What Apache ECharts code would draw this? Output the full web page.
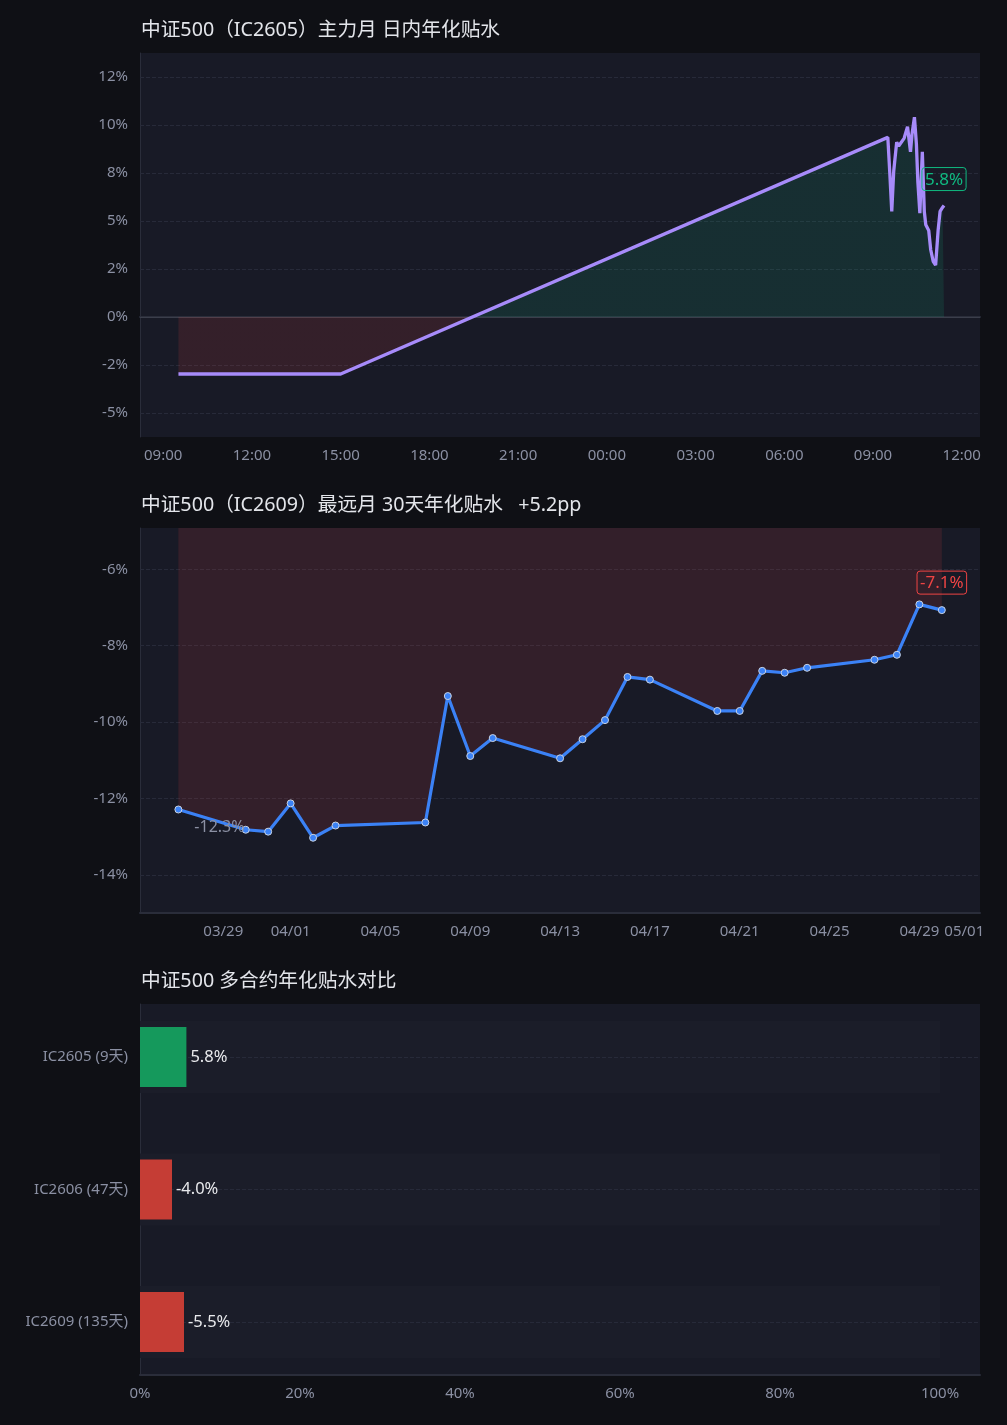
<!DOCTYPE html>
<html><head><meta charset="utf-8">
<script src="https://cdn.jsdelivr.net/npm/echarts@6/dist/echarts.min.js"></script>
<style>html,body{margin:0;padding:0;background:#0f1015;}#c{width:1007px;height:1425px;}#err{position:absolute;left:10px;top:10px;color:#ff0;font:12px monospace;white-space:pre;z-index:9}</style>
</head><body><div id="c"></div><div id="err"></div>
<script>
// ---------- data ----------
const titleTop = '中证500（IC2605）主力月 日内年化贴水';
const titleMid = '中证500（IC2609）最远月 30天年化贴水   +5.2pp';
const titleBottom = '中证500 多合约年化贴水对比';

const intradayTimes = [
  '2026-04-29 09:31','2026-04-29 11:30','2026-04-29 13:00','2026-04-29 15:00',
  '2026-04-30 09:30','2026-04-30 09:34','2026-04-30 09:38','2026-04-30 09:42','2026-04-30 09:48',
  '2026-04-30 09:52','2026-04-30 09:56','2026-04-30 10:03','2026-04-30 10:10','2026-04-30 10:16',
  '2026-04-30 10:19','2026-04-30 10:24','2026-04-30 10:28','2026-04-30 10:31','2026-04-30 10:35',
  '2026-04-30 10:40','2026-04-30 10:44','2026-04-30 10:47','2026-04-30 10:53','2026-04-30 10:57',
  '2026-04-30 11:02','2026-04-30 11:07','2026-04-30 11:12','2026-04-30 11:16','2026-04-30 11:21',
  '2026-04-30 11:24'
];
const intradayValues = [
  -2.97, -2.97, -2.97, -2.97,
  9.35, 7.5, 5.5, 7.6, 9.1,
  8.9, 8.8, 9.3, 9.9, 8.6,
  9.5, 10.4, 9.0, 7.0, 5.4,
  8.6, 5.5, 4.8, 4.5, 3.5,
  2.9, 2.7, 4.5, 5.5, 5.7,
  5.8
];
const topYTicks = [-5, -2.5, 0, 2.5, 5, 7.5, 10, 12.5];
const topXTicks = ['2026-04-29 09:00','2026-04-29 12:00','2026-04-29 15:00','2026-04-29 18:00','2026-04-29 21:00',
  '2026-04-30 00:00','2026-04-30 03:00','2026-04-30 06:00','2026-04-30 09:00','2026-04-30 12:00'];
const topXRange = ['2026-04-29 08:13', '2026-04-30 12:37'];

const farDates = ['2026-03-27','2026-03-30','2026-03-31','2026-04-01','2026-04-02','2026-04-03','2026-04-07',
  '2026-04-08','2026-04-09','2026-04-10','2026-04-13','2026-04-14','2026-04-15','2026-04-16','2026-04-17',
  '2026-04-20','2026-04-21','2026-04-22','2026-04-23','2026-04-24','2026-04-27','2026-04-28','2026-04-29','2026-04-30'];
const farValues = [-12.29,-12.82,-12.87,-12.13,-13.03,-12.71,-12.63,
  -9.32,-10.89,-10.42,-10.95,-10.45,-9.95,-8.82,-8.89,
  -9.71,-9.71,-8.66,-8.71,-8.58,-8.37,-8.24,-6.92,-7.07];
const midYTicks = [-14, -12, -10, -8, -6];
const midXTicks = ['2026-03-29','2026-04-01','2026-04-05','2026-04-09','2026-04-13','2026-04-17','2026-04-21','2026-04-25','2026-04-29','2026-05-01'];

const contracts = ['IC2605 (9天)', 'IC2606 (47天)', 'IC2609 (135天)'];
const contractBasis = [5.8, -4.0, -5.5];
const bottomXTicks = [0, 20, 40, 60, 80, 100];
const TRACK_MAX = 100; // full-scale track behind each bar

// ---------- helpers ----------
function toMs(s) {
  const [d, t] = s.split(' ');
  const [Y, M, D] = d.split('-').map(Number);
  const [h, m] = (t || '00:00').split(':').map(Number);
  return Date.UTC(Y, M - 1, D, h, m);
}
const p2 = n => String(n).padStart(2, '0');
function fmtHM(v) { const d = new Date(Math.round(v)); return p2(d.getUTCHours()) + ':' + p2(d.getUTCMinutes()); }
function fmtMD(v) { const d = new Date(Math.round(v)); return p2(d.getUTCMonth() + 1) + '/' + p2(d.getUTCDate()); }
function roundHalfEven(v) {
  if (Math.abs(v % 1) === 0.5) return 2 * Math.round(v / 2);
  return Math.round(v);
}
function near(list, v, eps) { return list.some(x => Math.abs(x - v) < eps); }

const FONT = "'Noto Sans', 'Noto Sans CJK SC', sans-serif";
const RED = '#ef4444', GREEN = '#10b981';
const LABEL_C = '#8b90a3';
const GRID_BG = '#181a26';
const AXIS_C = '#2a2d3a';
const SPLIT_C = '#272a39';
const MIN = 60000, HOUR = 3600000;

// top chart extents
const topData = intradayTimes.map((t, i) => [toMs(t), intradayValues[i]]);
const TOP_XSTEP = MIN;
const topXMin = toMs(topXRange[0]), topXMax = toMs(topXRange[1]);
const vMinT = Math.min(...intradayValues), vMaxT = Math.max(...intradayValues);
const yPadT = Math.max(2, (vMaxT - vMinT) * 0.25);
const TOP_YSTEP = 1.25;
const topYMin = Math.round((vMinT - yPadT) / TOP_YSTEP) * TOP_YSTEP;
const topXTickMs = topXTicks.map(toMs);

// mid chart extents (5% padding in time, >=2pp in value)
const midData = farDates.map((t, i) => [toMs(t), farValues[i]]);
const mMin = midData[0][0], mMax = midData[midData.length - 1][0];
const mPad = (mMax - mMin) * 0.05;
const MID_XSTEP = HOUR;
const midXMin = Math.round((mMin - mPad) / MID_XSTEP) * MID_XSTEP;
const vMinM = Math.min(...farValues), vMaxM = Math.max(...farValues);
const yPadM = Math.max(2, (vMaxM - vMinM) * 0.25);
const MID_YSTEP = 1;
const midYMin = Math.round((vMinM - yPadM) / MID_YSTEP) * MID_YSTEP;
const midXTickMs = midXTicks.map(toMs);

const boxLabel = (color, text, dist) => ({ show: true, position: 'top', distance: dist, formatter: text,
  color: color, fontSize: 17, lineHeight: 19, fontFamily: FONT, borderColor: color, borderWidth: 1, borderRadius: 3,
  padding: [3, 3, 1, 3] });

const topLineData = topData.map((p, i) => {
  if (i !== topData.length - 1) return p;
  return { value: p, label: boxLabel(GREEN, p[1].toFixed(1) + '%', 15) };
});
const midLineData = midData.map((p, i) => {
  if (i === midData.length - 1) return { value: p, label: boxLabel(RED, p[1].toFixed(1) + '%', 12) };
  if (i === 0) {
    return { value: p, label: { show: true, position: 'right', distance: 12, offset: [0, 18],
      formatter: p[1].toFixed(1) + '%', color: LABEL_C, fontSize: 16, fontFamily: FONT } };
  }
  return p;
});

const titleStyle = { color: '#e3e5ea', fontSize: 19.7, fontWeight: 'normal', fontFamily: FONT };
const axLabel = { color: LABEL_C, fontSize: 15, fontFamily: FONT };

try {
const chart = echarts.init(document.getElementById('c'));
chart.setOption({
  backgroundColor: '#0f1015',
  animation: false,
  textStyle: { fontFamily: FONT },
  title: [
    { text: titleTop, left: 136, top: 16, textStyle: titleStyle },
    { text: titleMid, left: 136, top: 491, textStyle: titleStyle },
    { text: titleBottom, left: 136, top: 967, textStyle: titleStyle }
  ],
  grid: [
    { left: 140, right: 27, top: 53, height: 384, show: true, backgroundColor: GRID_BG, borderWidth: 0 },
    { left: 140, right: 27, top: 528, height: 385, show: true, backgroundColor: GRID_BG, borderWidth: 0 },
    { left: 140, right: 27, top: 1004, height: 371, show: true, backgroundColor: GRID_BG, borderWidth: 0 },
    { left: 140, right: 27, top: 990.75, height: 397.5, show: false }
  ],
  visualMap: [{
    type: 'piecewise', show: false, seriesIndex: 0, dimension: 1,
    pieces: [{ gte: -50, lt: 0, color: RED }, { gte: 0, lte: 50, color: GREEN }],
    outOfRange: { color: GREEN }
  }],
  xAxis: [
    { type: 'value', gridIndex: 0, min: topXMin, max: topXMax, interval: TOP_XSTEP,
      axisLine: { show: true, lineStyle: { color: AXIS_C, width: 2 } }, axisTick: { show: false },
      splitLine: { show: false },
      axisLabel: Object.assign({ margin: 11, showMinLabel: true, showMaxLabel: true,
        formatter: v => near(topXTickMs, v, MIN / 2) ? fmtHM(v) : '' }, axLabel) },
    { type: 'value', gridIndex: 1, min: midXMin, max: mMax + mPad, interval: MID_XSTEP,
      axisLine: { show: true, lineStyle: { color: AXIS_C, width: 2 } }, axisTick: { show: false },
      splitLine: { show: false },
      axisLabel: Object.assign({ margin: 11, showMinLabel: true, showMaxLabel: true,
        formatter: v => near(midXTickMs, v, MIN) ? fmtMD(v) : '' }, axLabel) },
    { type: 'value', gridIndex: 2, min: 0, max: 105, interval: 20,
      axisLine: { show: true, lineStyle: { color: AXIS_C, width: 2 } }, axisTick: { show: false },
      splitLine: { show: false },
      axisLabel: Object.assign({ margin: 11, formatter: v => near(bottomXTicks, v, 0.01) ? v + '%' : '' }, axLabel) },
    { type: 'value', gridIndex: 3, min: 0, max: 105, show: false }
  ],
  yAxis: [
    { type: 'value', gridIndex: 0, min: topYMin, max: vMaxT + yPadT, interval: TOP_YSTEP,
      axisLine: { show: true, lineStyle: { color: AXIS_C, width: 1 } }, axisTick: { show: false },
      splitLine: { show: false },
      axisLabel: Object.assign({ margin: 12,
        formatter: v => near(topYTicks, v, 0.01) ? roundHalfEven(v) + '%' : '' }, axLabel) },
    { type: 'value', gridIndex: 1, min: midYMin, max: vMaxM + yPadM, interval: MID_YSTEP,
      axisLine: { show: true, lineStyle: { color: AXIS_C, width: 1 } }, axisTick: { show: false },
      splitLine: { show: false },
      axisLabel: Object.assign({ margin: 12,
        formatter: v => near(midYTicks, v, 0.01) ? Math.round(v) + '%' : '' }, axLabel) },
    { type: 'value', gridIndex: 2, min: 0, max: 1,
      axisLine: { show: true, lineStyle: { color: AXIS_C, width: 1 } }, axisTick: { show: false },
      splitLine: { show: false }, axisLabel: { show: false } },
    { type: 'category', gridIndex: 3, data: contracts, inverse: true,
      axisLine: { show: false }, axisTick: { show: false }, splitLine: { show: false },
      axisLabel: Object.assign({ margin: 12 }, axLabel) },
    { type: 'category', gridIndex: 3, data: contracts, inverse: true, show: false }
  ],
  series: [
    // 0: top area (coloured by sign) + grid lines
    { type: 'line', xAxisIndex: 0, yAxisIndex: 0, data: topData, z: 2, symbol: 'none', silent: true,
      lineStyle: { width: 0, opacity: 0 }, areaStyle: { opacity: 0.13 },
      markLine: { z: 1, silent: true, symbol: 'none', label: { show: false }, animation: false,
        lineStyle: { color: SPLIT_C, type: 'dashed', width: 1 },
        data: topYTicks.map(v => v === 0
          ? { yAxis: v, lineStyle: { color: '#3b3e4b', type: 'solid', width: 1 } }
          : { yAxis: v }) } },
    // 1: top line
    { type: 'line', xAxisIndex: 0, yAxisIndex: 0, data: topLineData, z: 3,
      symbol: 'circle', symbolSize: 0, showSymbol: true, showAllSymbol: true,
      lineStyle: { color: '#a78bfa', width: 3.3 }, itemStyle: { color: '#a78bfa' } },
    // 2: mid line with area + grid lines
    { type: 'line', xAxisIndex: 1, yAxisIndex: 1, data: midLineData, z: 3,
      symbol: 'circle', symbolSize: 7, showAllSymbol: true,
      lineStyle: { color: '#3b82f6', width: 3.2 },
      itemStyle: { color: '#3b82f6', borderColor: '#c9d3e3', borderWidth: 1 },
      areaStyle: { color: 'rgba(239,68,68,0.13)', opacity: 1 },
      markLine: { z: 1, silent: true, symbol: 'none', label: { show: false }, animation: false,
        lineStyle: { color: SPLIT_C, type: 'dashed', width: 1 },
        data: midYTicks.map(v => ({ yAxis: v })) } },
    // 3: bar tracks
    { type: 'bar', xAxisIndex: 3, yAxisIndex: 4, barWidth: 72, z: 1, silent: true,
      itemStyle: { color: '#1b1d29' },
      data: contracts.map(() => TRACK_MAX) },
    // 4: bars
    { type: 'bar', xAxisIndex: 3, yAxisIndex: 3, barWidth: 60, z: 3,
      data: contractBasis.map(v => ({ value: Math.abs(v), itemStyle: { color: v >= 0 ? '#15995c' : '#c53d35' } })),
      label: { show: true, position: 'right', distance: 4, color: '#e8e9ec', fontSize: 16.5, fontFamily: FONT,
        formatter: p => contractBasis[p.dataIndex].toFixed(1) + '%' },
      markLine: { z: 2, silent: true, symbol: 'none', label: { show: false }, animation: false,
        lineStyle: { color: SPLIT_C, type: 'dashed', width: 1 },
        data: contracts.map(c => ({ yAxis: c })) } }
  ]
});
} catch (e) {
  document.getElementById('err').textContent = String(e && e.stack || e).slice(0, 600);
}
window.addEventListener('error', e => { document.getElementById('err').textContent += '\n' + (e.error && e.error.stack || e.message).slice(0, 600); });
</script></body></html>
